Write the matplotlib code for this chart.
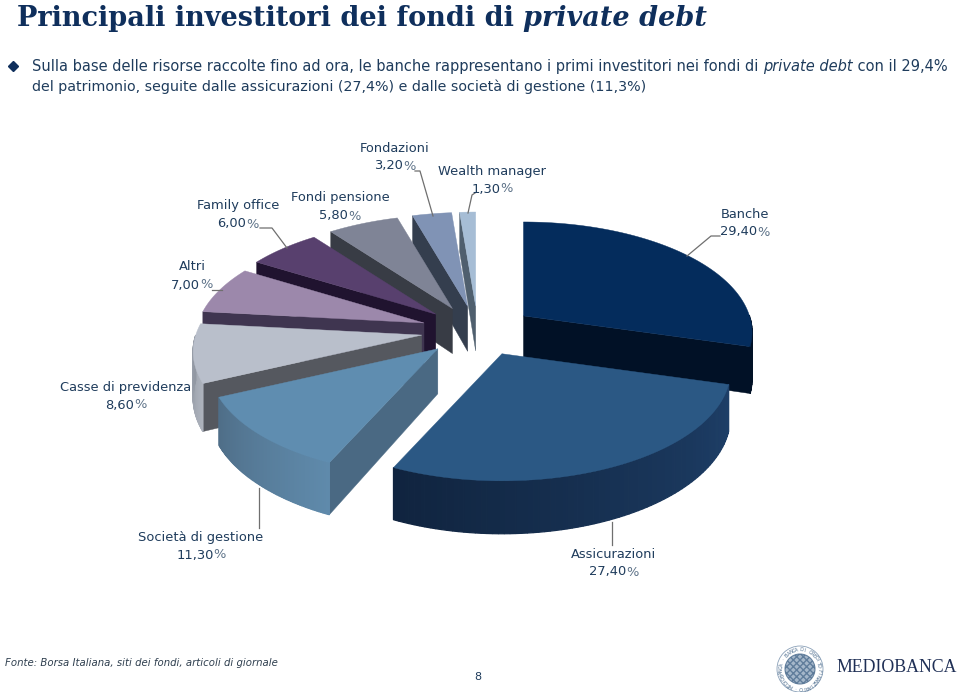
#!/usr/bin/env python3

import numpy as np
import matplotlib
matplotlib.use("Agg")
import matplotlib.pyplot as plt
from matplotlib.colors import to_rgb
from matplotlib.patches import Circle, Polygon

# chart data
categories = ["Banche", "Assicurazioni", "Società di gestione", "Casse di previdenza", "Altri",
              "Family office", "Fondi pensione", "Fondazioni", "Wealth manager"]
values = [29.4, 27.4, 11.3, 8.6, 7.0, 6.0, 5.8, 3.2, 1.3]

# colours of each slice: top, cut face, outer wall (light end, dark end)
top_colors = ["#042c5c", "#2b5884", "#5f8db0", "#b9bfcb", "#9c88ab", "#58406e", "#7f8496", "#8093b5", "#a6bdd5"]
cut_colors = ["#011126", "#14294a", "#4a6983", "#55585f", "#3f3550", "#20132f", "#383c45", "#343e4e", "#4f5f6e"]
wall_light = ["#011126", "#1e3f68", "#5f8aab", "#aeb3bd", "#3f3550", "#20132f", "#383c45", "#343e4e", "#4f5f6e"]
wall_dark = ["#011126", "#10243f", "#4f6e88", "#9298a3", "#3f3550", "#20132f", "#383c45", "#343e4e", "#4f5f6e"]

# label centres (first line) in pixels
label_xy = [(745, 214), (614, 554), (201, 537), (126, 387), (192, 267),
            (238, 206), (340, 198), (395, 148), (492, 171)]
# leader lines in pixels
leaders = [[(415, 171), (420, 171), (433, 216)],
           [(475, 193), (472, 195), (468, 213)],
           [(260, 228), (272, 228), (287, 248)],
           [(212, 290), (222, 290)],
           [(259, 488), (259, 528)],
           [(720, 236), (711, 236), (687, 256)],
           [(612, 522), (612, 545)]]

# pie geometry in pixels
cx, cy = 478, 331
rx, ry = 226, 108
persp = 0.15
depth = 45
explode = 57
squash = 0.44
draw_order = [8, 7, 6, 5, 4, 3, 2, 0, 1]

NAVY = "#0f2f5c"
LABEL = "#1f3c5c"
PERCENT = "#5d7288"

fig = plt.figure(figsize=(9.6, 6.92), dpi=100)
ax = fig.add_axes([0, 0, 1, 1])
ax.set_xlim(0, 960)
ax.set_ylim(692, 0)
ax.axis("off")


def project(theta, apex):
    u, v = np.sin(theta), np.cos(theta)
    s = 1 / (1 + persp * v)
    return apex[0] + rx * u * s, apex[1] - ry * v * s, depth * s


def draw_slice(i, start, end):
    mid = (start + end) / 2
    apex = (cx + explode * np.sin(mid), cy - explode * squash * np.cos(mid))
    thetas = np.linspace(start, end, 80)
    pts = [project(t, apex) for t in thetas]
    z = 2 + draw_order.index(i)

    # cut faces, only those turned to the viewer
    for p, nrm in ((pts[0], start - np.pi / 2), (pts[-1], end + np.pi / 2)):
        if np.cos(nrm) < 0:
            ax.add_patch(Polygon([apex, p[:2], (p[0], p[1] + p[2]), (apex[0], apex[1] + depth)],
                                 closed=True, fc=cut_colors[i], ec=cut_colors[i], lw=0.3, zorder=z))

    # outer wall
    vis = [j for j in range(len(thetas) - 1) if np.cos((thetas[j] + thetas[j + 1]) / 2) < 0]
    for n, j in enumerate(vis):
        f = n / max(len(vis) - 1, 1)
        c = (1 - f) * np.array(to_rgb(wall_light[i])) + f * np.array(to_rgb(wall_dark[i]))
        a, b = pts[j], pts[j + 1]
        ax.add_patch(Polygon([a[:2], b[:2], (b[0], b[1] + b[2]), (a[0], a[1] + a[2])],
                             closed=True, fc=c, ec=c, lw=0.9, zorder=z))

    # top surface
    ax.add_patch(Polygon([apex] + [p[:2] for p in pts], closed=True, fc=top_colors[i], ec=top_colors[i],
                         lw=0.3, zorder=z + 0.5))


edges = np.radians(np.concatenate([[0], np.cumsum(values)]) * 3.6)
for i in draw_order:
    draw_slice(i, edges[i], edges[i + 1])

# leader lines
for line in leaders:
    xs, ys = zip(*line)
    ax.plot(xs, ys, color="#6f6f6f", lw=0.9, zorder=20)

renderer = fig.canvas.get_renderer()

# slice labels, the percent sign is paler than the number
for name, val, (lx, ly) in zip(categories, values, label_xy):
    ax.text(lx, ly, name, ha="center", va="center", fontsize=9.4, color=LABEL, zorder=21)
    num = ax.text(lx, ly + 18, f"{val:.2f}".replace(".", ","), ha="left", va="center",
                  fontsize=9.4, color=LABEL, zorder=21)
    pct = ax.text(lx, ly + 18, "%", ha="left", va="center", fontsize=9.4, color=PERCENT, zorder=21)
    w1 = num.get_window_extent(renderer).width
    w2 = pct.get_window_extent(renderer).width
    num.set_x(lx - (w1 + w2) / 2)
    pct.set_x(lx - (w1 + w2) / 2 + w1)


def runs(x, y, parts, **kw):
    # write text pieces one after the other on the same baseline
    for txt, style in parts:
        t = ax.text(x, y, txt, style=style, va="baseline", ha="left", **kw)
        x += t.get_window_extent(renderer).width


runs(17, 26, [("Principali investitori dei fondi di ", "normal"), ("private debt", "italic")],
     family="DejaVu Serif", weight="bold", fontsize=19.5, color=NAVY)

ax.plot([13], [66], marker="D", ms=5.5, color=NAVY, ls="none")
runs(32, 71, [("Sulla base delle risorse raccolte fino ad ora, le banche rappresentano i primi investitori nei fondi di ", "normal"),
              ("private debt", "italic"), (" con il 29,4%", "normal")], fontsize=10.5, color=LABEL)
ax.text(32, 91, "del patrimonio, seguite dalle assicurazioni (27,4%) e dalle società di gestione (11,3%)",
        fontsize=10.3, color=LABEL, va="baseline")

ax.text(5, 666, "Fonte: Borsa Italiana, siti dei fondi, articoli di giornale", style="italic", fontsize=7.25, color="#2f3f4f", va="baseline")
ax.text(478, 677, "8", ha="center", va="center", fontsize=8, color=LABEL)

# logo
ax.text(897, 667, "MEDIOBANCA", family="Liberation Serif", fontsize=12.8, color="#1f2f55", ha="center", va="center")
seal_x, seal_y = 800, 669
ax.add_patch(Circle((seal_x, seal_y), 23, fc="none", ec="#8aa0b8", lw=0.6))
ax.add_patch(Circle((seal_x, seal_y), 15, fc="#8fa5bd", ec="#4f6f90", lw=0.8, hatch="xxxxx", alpha=0.8))
ring = "MEDIOBANCA · BANCA DI CREDITO FINANZIARIO · "
for k, ch in enumerate(ring):
    a = np.radians(-150 + k * 360 / len(ring))
    ax.text(seal_x + 19 * np.sin(a), seal_y - 19 * np.cos(a), ch, fontsize=3.6, color="#4f6f90",
            rotation=-np.degrees(a), ha="center", va="center", rotation_mode="anchor")

fig.savefig("out.png", dpi=100)
